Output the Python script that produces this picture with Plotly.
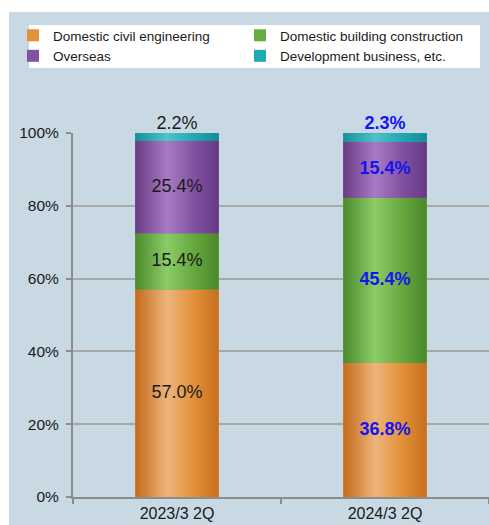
import plotly.graph_objects as go

categories = ["2023/3 2Q", "2024/3 2Q"]
series_names = ["Domestic civil engineering", "Domestic building construction",
                "Overseas", "Development business, etc."]
civil = [57.0, 36.8]
building = [15.4, 45.4]
overseas = [25.4, 15.4]
development = [2.2, 2.3]
y_ticks = [0, 20, 40, 60, 80, 100]
y_tick_labels = [f"{v}%" for v in y_ticks]

series_values = [civil, building, overseas, development]
solid_colors = ["#e3913a", "#6aab40", "#8252a2", "#22a8b2"]
gradients = [
    [[0, "#c46a1c"], [0.38, "#edb57a"], [0.7, "#e3913a"], [1, "#c6701e"]],
    [[0, "#4a8a2c"], [0.38, "#8ccc68"], [0.7, "#67a83e"], [1, "#4a882c"]],
    [[0, "#683a84"], [0.38, "#a87cc4"], [0.7, "#8252a2"], [1, "#673983"]],
    [[0, "#14909a"], [0.38, "#50c2ca"], [0.7, "#22a8b2"], [1, "#138c96"]],
]
label_colors = ["#1a1a1a", "#1515ee"]
bar_width = 0.4
xpos = list(range(len(categories)))

fig = go.Figure()

# legend-bearing solid bars
for name, vals, col in zip(series_names, series_values, solid_colors):
    fig.add_trace(go.Bar(x=xpos, y=vals, name=name, width=bar_width,
                         marker=dict(color=col, line=dict(width=0)),
                         hoverinfo="skip"))

# gradient overlays, one per segment, computed from the data
bases = [0.0] * len(categories)
label_x, label_y, label_t, label_c, label_pos = [], [], [], [], []
for si, (vals, grad) in enumerate(zip(series_values, gradients)):
    for j, v in enumerate(vals):
        b = bases[j]
        t = round(b + v, 6)
        x0, x1 = xpos[j] - bar_width / 2, xpos[j] + bar_width / 2
        fig.add_trace(go.Scatter(
            x=[x0, x1, x1, x0, x0], y=[b, b, min(t, 100), min(t, 100), b],
            mode="none", fill="toself", fillcolor=solid_colors[si],
            fillgradient=dict(type="horizontal", colorscale=grad),
            showlegend=False, hoverinfo="skip"))
        txt = f"{v:.1f}%"
        if j == 1:
            txt = f"<b>{txt}</b>"
        label_x.append(xpos[j])
        label_t.append(txt)
        label_c.append(label_colors[j])
        if si == len(series_values) - 1:
            label_y.append(min(t, 100))
            label_pos.append("top center")
        else:
            label_y.append(b + v / 2)
            label_pos.append("middle center")
        bases[j] = t

fig.add_trace(go.Scatter(
    x=label_x, y=label_y, text=label_t, mode="text",
    textposition=label_pos,
    textfont=dict(family="Liberation Sans, Arial, sans-serif", size=18, color=label_c),
    showlegend=False, hoverinfo="skip", cliponaxis=False))

W, H = 489, 525
ml, mr, mt, mb = 73, 0, 133, 28
pw, ph = W - ml - mr, H - mt - mb

def px_x(p):
    return (p - ml) / pw

def px_y(p):
    return (H - mb - p) / ph

panel = "#c9d9e4"
fig.update_layout(
    width=W, height=H,
    margin=dict(l=ml, r=mr, t=mt, b=mb, pad=0, autoexpand=False),
    paper_bgcolor="white",
    plot_bgcolor="rgba(0,0,0,0)",
    barmode="stack",
    font=dict(family="Liberation Sans, Arial, sans-serif", color="#1a1a1a"),
    shapes=[
        dict(type="rect", xref="paper", yref="paper", layer="below",
             x0=px_x(9), x1=px_x(W + 5), y0=px_y(H + 5), y1=px_y(12),
             fillcolor=panel, line=dict(width=0)),
        dict(type="rect", xref="paper", yref="paper", layer="below",
             x0=px_x(29), x1=px_x(480), y0=px_y(68), y1=px_y(25),
             fillcolor="white", line=dict(width=0)),
    ],
    legend=dict(orientation="h", x=px_x(13), xanchor="left",
                y=px_y(20), yanchor="top", traceorder="normal",
                bgcolor="rgba(0,0,0,0)", borderwidth=0,
                entrywidth=182, entrywidthmode="pixels",
                itemwidth=30, tracegroupgap=0,
                font=dict(size=13.5, color="#1a1a1a")),
    showlegend=True,
)

fig.update_xaxes(
    range=[-0.5, len(categories) - 0.5],
    tickvals=xpos, ticktext=categories,
    ticks="outside", ticklen=1, tickcolor="rgba(0,0,0,0)",
    ticklabelstandoff=0, automargin=False,
    minor=dict(tickvals=[-0.5, 0.5, 1.5], ticks="outside", ticklen=5,
               tickcolor="#8c8c8c", tickwidth=1.5, showgrid=False),
    showgrid=False, zeroline=False,
    showline=True, linecolor="#8c8c8c", linewidth=2,
    tickfont=dict(size=16, color="#1a1a1a"),
)
fig.update_yaxes(
    range=[0, 100], tickvals=y_ticks, ticktext=y_tick_labels,
    ticks="outside", ticklen=5, tickcolor="#8c8c8c", tickwidth=1.5,
    ticklabelstandoff=4, automargin=False,
    showgrid=True, gridcolor="#a8a8a8", gridwidth=1.5,
    zeroline=False,
    showline=True, linecolor="#8c8c8c", linewidth=2,
    tickfont=dict(size=15.5, color="#1a1a1a"),
)

fig.write_html("out.html")
